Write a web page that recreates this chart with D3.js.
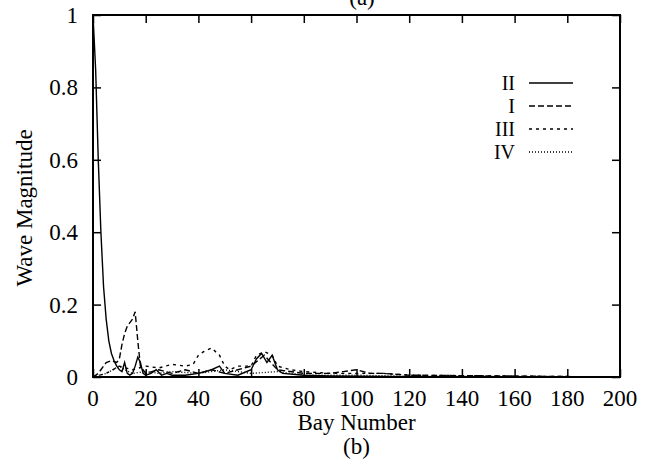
<!DOCTYPE html>
<html>
<head>
<meta charset="utf-8">
<script src="https://cdn.jsdelivr.net/npm/d3@7"></script>
<style>
  body { margin: 0; background: #fff; }
  text { font-family: "Liberation Serif", "DejaVu Serif", serif; fill: #000; }
</style>
</head>
<body>
<div id="chart"></div>
<script>
// values (bay number, wave magnitude)
let bays2 = [0, 1, 2, 3, 4, 5, 6, 7, 8, 9, 10, 11, 12, 13, 14, 15, 16, 17, 18, 19, 20, 22, 24, 26, 28, 30, 35, 40, 45, 48, 50, 55, 60, 62, 64, 66, 68, 70, 72, 80, 90, 100, 120, 200];
let waveII = [1.0, 0.85, 0.6, 0.4, 0.25, 0.16, 0.1, 0.065, 0.045, 0.03, 0.02, 0.015, 0.04, 0.01, 0.005, 0.01, 0.03, 0.055, 0.04, 0.01, 0.005, 0.01, 0.02, 0.005, 0.01, 0.005, 0.005, 0.01, 0.02, 0.03, 0.01, 0.005, 0.02, 0.05, 0.065, 0.04, 0.06, 0.02, 0.01, 0.005, 0.003, 0.002, 0.001, 0];

let bays1 = [0, 2, 3, 5, 7, 9, 10, 11, 12, 13, 14, 15, 16, 17, 18, 20, 25, 30, 35, 40, 45, 50, 55, 60, 65, 70, 80, 90, 95, 100, 105, 110, 120, 200];
let waveI = [0, 0.01, 0.02, 0.04, 0.045, 0.04, 0.05, 0.09, 0.12, 0.14, 0.15, 0.16, 0.18, 0.1, 0.03, 0.01, 0.02, 0.01, 0.02, 0.01, 0.02, 0.01, 0.02, 0.03, 0.06, 0.02, 0.01, 0.01, 0.015, 0.02, 0.01, 0.01, 0.005, 0];

let bays3 = [0, 5, 10, 15, 20, 25, 30, 35, 38, 40, 42, 45, 48, 50, 52, 55, 60, 62, 65, 68, 70, 75, 80, 90, 100, 110, 120, 200];
let waveIII = [0, 0.01, 0.03, 0.02, 0.03, 0.025, 0.035, 0.03, 0.035, 0.06, 0.07, 0.08, 0.06, 0.03, 0.02, 0.03, 0.03, 0.06, 0.07, 0.06, 0.03, 0.02, 0.015, 0.01, 0.01, 0.01, 0.005, 0];

let bays4 = [0, 5, 10, 12, 15, 20, 25, 30, 40, 50, 60, 70, 80, 100, 120, 200];
let waveIV = [0, 0.01, 0.03, 0.02, 0.01, 0.015, 0.01, 0.015, 0.01, 0.02, 0.01, 0.015, 0.005, 0.005, 0.002, 0];

let xTicks = [0, 20, 40, 60, 80, 100, 120, 140, 160, 180, 200];
let yTicks = [0, 0.2, 0.4, 0.6, 0.8, 1];
let seriesNames = ["II", "I", "III", "IV"];

let series = [
    {name: "II", x: bays2, y: waveII, dash: null},
    {name: "I", x: bays1, y: waveI, dash: "6,3"},
    {name: "III", x: bays3, y: waveIII, dash: "3,4"},
    {name: "IV", x: bays4, y: waveIV, dash: "1,2"}
];

let margin = {top: 15, right: 29, bottom: 88, left: 93};
let W = 649, H = 465;
let w = W - margin.left - margin.right;
let h = H - margin.top - margin.bottom;
let fs = 23;

let svg = d3.select("#chart")
            .append("svg")
            .attr("width", W)
            .attr("height", H);

let g = svg.append("g")
           .attr("transform", "translate(" + margin.left + "," + margin.top + ")");

let x = d3.scaleLinear().domain([0, 200]).range([0, w]);
let y = d3.scaleLinear().domain([0, 1]).range([h, 0]);

// ticks pointing inward, mirrored on every side
let tl = 8;
g.append("g").attr("transform", "translate(0," + h + ")")
 .call(d3.axisBottom(x).tickValues(xTicks).tickSizeInner(-tl).tickSizeOuter(0).tickFormat(""));
g.append("g")
 .call(d3.axisTop(x).tickValues(xTicks).tickSizeInner(-tl).tickSizeOuter(0).tickFormat(""));
g.append("g")
 .call(d3.axisLeft(y).tickValues(yTicks).tickSizeInner(-tl).tickSizeOuter(0).tickFormat(""));
g.append("g").attr("transform", "translate(" + w + ",0)")
 .call(d3.axisRight(y).tickValues(yTicks).tickSizeInner(-tl).tickSizeOuter(0).tickFormat(""));
g.selectAll(".domain").remove();
g.selectAll(".tick line").attr("stroke", "#000").attr("stroke-width", 1.5);

g.append("rect")
 .attr("width", w).attr("height", h)
 .attr("fill", "none").attr("stroke", "#000").attr("stroke-width", 2);

// tick labels
g.selectAll(".xl").data(xTicks).enter().append("text")
 .attr("x", d => x(d)).attr("y", h + 29)
 .attr("text-anchor", "middle").attr("font-size", fs)
 .text(d => d);
g.selectAll(".yl").data(yTicks).enter().append("text")
 .attr("x", -15).attr("y", d => y(d) + 8)
 .attr("text-anchor", "end").attr("font-size", fs)
 .text(d => d);

svg.append("text").attr("x", margin.left + w / 2).attr("y", 430)
   .attr("text-anchor", "middle").attr("font-size", fs).text("Bay Number");
svg.append("text").attr("x", margin.left + w / 2).attr("y", 454)
   .attr("text-anchor", "middle").attr("font-size", fs).text("(b)");
svg.append("text").attr("x", 362).attr("y", 5)
   .attr("text-anchor", "middle").attr("font-size", fs).text("(a)");
svg.append("text")
   .attr("transform", "translate(32,208) rotate(-90)")
   .attr("text-anchor", "middle").attr("font-size", fs).text("Wave Magnitude");

let line = d3.line().x(d => x(d[0])).y(d => y(d[1]));

g.selectAll(".series").data(series).enter().append("path")
 .attr("d", s => line(d3.zip(s.x, s.y)))
 .attr("fill", "none").attr("stroke", "#000").attr("stroke-width", 1.4)
 .attr("stroke-dasharray", s => s.dash);

// legend
let leg = g.append("g").attr("transform", "translate(" + (515 - margin.left) + ",0)");
let legY = d3.scalePoint().domain(seriesNames).range([68, 137]);
series.forEach(s => {
    leg.append("text").attr("x", 0).attr("y", legY(s.name) + 7)
       .attr("text-anchor", "end").attr("font-size", 20).text(s.name);
    leg.append("line").attr("x1", 14).attr("x2", 58)
       .attr("y1", legY(s.name)).attr("y2", legY(s.name))
       .attr("stroke", "#000").attr("stroke-width", 1.4)
       .attr("stroke-dasharray", s.dash);
});
</script>
</body>
</html>
